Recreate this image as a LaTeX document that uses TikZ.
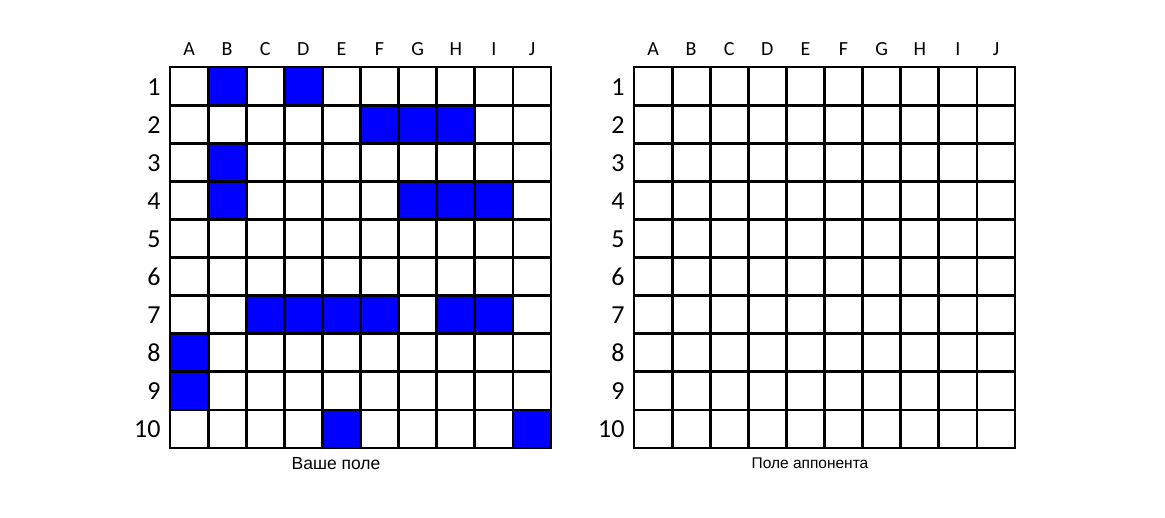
\documentclass[tikz,border=0pt]{standalone}
\usepackage{fontspec}
\setmainfont{Carlito}
\newfontfamily\capfont{Liberation Sans}
\begin{document}
\begin{tikzpicture}[x=1pt,y=-1pt,
  gridline/.style={line width=2.8pt, line cap=rect},
  ship/.style={fill={rgb,255:red,0;green,0;blue,255}},
  collab/.style={font=\fontsize{20}{20}\selectfont, anchor=base},
  rowlab/.style={font=\fontsize{26}{26}\selectfont, anchor=base east},
  caplab/.style={font=\capfont\fontsize{17.5}{17.5}\selectfont, anchor=base}]
\useasboundingbox (0,0) rectangle (1165,517);
\def\cw{38.1}
\foreach \c/\r in {2/1,4/1,6/2,7/2,8/2,2/3,2/4,7/4,8/4,9/4,3/7,4/7,5/7,6/7,8/7,9/7,1/8,1/9,5/10,10/10}{
  \fill[ship] ({170+(\c-1)*\cw},{67+(\r-1)*\cw}) rectangle ++(\cw,\cw);
}
\foreach \ox/\name in {170/L,634/R}{
  \foreach \i in {0,...,10}{
    \draw[gridline] ({\ox+\i*\cw},67) -- ({\ox+\i*\cw},448);
    \draw[gridline] (\ox,{67+\i*\cw}) -- ({\ox+10*\cw},{67+\i*\cw});
  }
  \foreach \l [count=\i] in {A,B,C,D,E,F,G,H,I,J}{
    \node[collab] (\name col\i) at ({\ox+(\i-0.5)*\cw},55) {\l};
  }
  \foreach \i in {1,...,10}{
    \node[rowlab] (\name row\i) at ({\ox-6},{67+(\i-0.5)*\cw+9}) {\i};
  }
}
\node[caplab] (capL) at (336,469) {Ваше поле};
\node[caplab, font=\capfont\fontsize{15.5}{15.5}\selectfont] (capR) at (810,468) {Поле аппонента};
\end{tikzpicture}
\end{document}
